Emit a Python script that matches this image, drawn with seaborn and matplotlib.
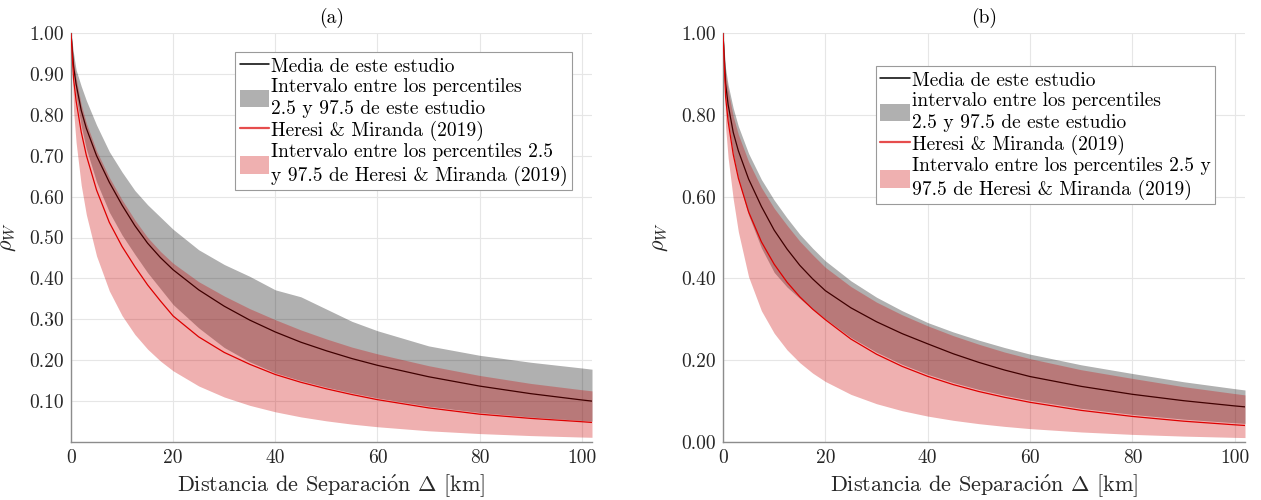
import matplotlib
matplotlib.use("Agg")
import matplotlib.pyplot as plt
import seaborn as sns
from matplotlib.lines import Line2D
from matplotlib.patches import Patch

# ---------------- data ----------------
distance_km = [0, 0.5, 1, 2, 3, 5, 7.5, 10, 12.5, 15, 17.5, 20, 25, 30, 35, 40,
               45, 50, 55, 60, 70, 80, 90, 100, 102]

# panel (a)
mean_a = [1.0, 0.918, 0.875, 0.811, 0.767, 0.700, 0.635, 0.579, 0.529, 0.486, 0.451,
          0.421, 0.372, 0.332, 0.298, 0.269, 0.244, 0.223, 0.204, 0.1875, 0.1596,
          0.1367, 0.1182, 0.1028, 0.100]
p025_a = [1.0, 0.898, 0.846, 0.773, 0.717, 0.636, 0.562, 0.506, 0.459, 0.414, 0.375,
          0.336, 0.279, 0.231, 0.196, 0.169, 0.150, 0.134, 0.120, 0.1075, 0.0874,
          0.072, 0.061, 0.0526, 0.051]
p975_a = [1.0, 0.95, 0.91, 0.87, 0.835, 0.775, 0.71, 0.66, 0.615, 0.58, 0.55, 0.52,
          0.47, 0.434, 0.405, 0.372, 0.355, 0.325, 0.295, 0.272, 0.235, 0.212, 0.195,
          0.181, 0.178]
hm_a = [1.0, 0.888, 0.834, 0.758, 0.701, 0.616, 0.537, 0.478, 0.429, 0.384, 0.345,
        0.308, 0.257, 0.219, 0.190, 0.165, 0.146, 0.130, 0.116, 0.1035, 0.0834, 0.068,
        0.0577, 0.0496, 0.0478]
hm025_a = [1.0, 0.811, 0.732, 0.628, 0.556, 0.455, 0.3695, 0.309, 0.263, 0.227, 0.198,
           0.174, 0.137, 0.110, 0.0896, 0.0738, 0.0614, 0.0517, 0.0437, 0.0373, 0.0274,
           0.0206, 0.0157, 0.0121, 0.0115]
hm975_a = [1.0, 0.933, 0.89, 0.825, 0.78, 0.712, 0.647, 0.592, 0.543, 0.500, 0.466,
           0.437, 0.392, 0.357, 0.326, 0.299, 0.274, 0.252, 0.232, 0.2155, 0.1866,
           0.1627, 0.1432, 0.1278, 0.125]

# panel (b)
mean_b = [1.0, 0.877, 0.825, 0.757, 0.712, 0.643, 0.576, 0.518, 0.472, 0.432, 0.399,
          0.370, 0.328, 0.294, 0.265, 0.240, 0.2157, 0.1946, 0.176, 0.160, 0.136,
          0.1166, 0.101, 0.0882, 0.0859]
p025_b = [1.0, 0.845, 0.784, 0.703, 0.642, 0.5546, 0.4745, 0.4147, 0.379, 0.351, 0.325,
          0.301, 0.2556, 0.2196, 0.1899, 0.1655, 0.1453, 0.1284, 0.1143, 0.102, 0.0823,
          0.0675, 0.0559, 0.047, 0.0454]
p975_b = [1.0, 0.914, 0.8735, 0.816, 0.772, 0.7055, 0.642, 0.5915, 0.548, 0.508, 0.474,
          0.443, 0.394, 0.354, 0.321, 0.292, 0.269, 0.249, 0.231, 0.2148, 0.1887,
          0.1675, 0.1473, 0.1304, 0.1272]
hm_b = [1.0, 0.845, 0.784, 0.703, 0.645, 0.5626, 0.4895, 0.4347, 0.391, 0.355, 0.325,
        0.299, 0.2516, 0.2146, 0.1849, 0.1605, 0.1403, 0.1234, 0.1093, 0.097, 0.0773,
        0.0625, 0.0509, 0.042, 0.0404]
hm025_b = [1.0, 0.771, 0.695, 0.594, 0.514, 0.404, 0.321, 0.266, 0.2254, 0.194, 0.1686,
           0.148, 0.1164, 0.0936, 0.0765, 0.0633, 0.053, 0.0448, 0.0382, 0.0327, 0.0245,
           0.0186, 0.0144, 0.0113, 0.0108]
hm975_b = [1.0, 0.902, 0.8585, 0.796, 0.752, 0.6855, 0.622, 0.5715, 0.530, 0.491, 0.458,
           0.427, 0.380, 0.342, 0.311, 0.284, 0.260, 0.239, 0.220, 0.2038, 0.1767,
           0.1555, 0.1353, 0.1184, 0.1152]

x_ticks = [0, 20, 40, 60, 80, 100]
y_ticks_a = [0.1, 0.2, 0.3, 0.4, 0.5, 0.6, 0.7, 0.8, 0.9, 1.0]
y_ticks_b = [0.0, 0.2, 0.4, 0.6, 0.8, 1.0]

labels_a = ["Media de este estudio",
            "Intervalo entre los percentiles\n2.5 y 97.5 de este estudio",
            "Heresi & Miranda (2019)",
            "Intervalo entre los percentiles 2.5\ny 97.5 de Heresi & Miranda (2019)"]
labels_b = ["Media de este estudio",
            "intervalo entre los percentiles\n2.5 y 97.5 de este estudio",
            "Heresi & Miranda (2019)",
            "Intervalo entre los percentiles 2.5 y\n97.5 de Heresi & Miranda (2019)"]

# ---------------- style ----------------
sns.set_theme(style="whitegrid")
plt.rcParams["font.family"] = ["cmr10", "DejaVu Serif"]
plt.rcParams["mathtext.fontset"] = "cm"
plt.rcParams["axes.formatter.use_mathtext"] = True
plt.rcParams["axes.unicode_minus"] = False

GRAY_A = 0.31
PINK_C = (0.8, 0.0, 0.0)
PINK_A = 0.31
RED = (0.9, 0.0, 0.0)
SPINE = "#8c8c8c"
TICKTXT = "#262626"

fig = plt.figure(figsize=(12.61, 5.0), dpi=100)
ax_a = fig.add_axes([71 / 1261, 1 - 442 / 500, 521 / 1261, 409 / 500])
ax_b = fig.add_axes([723 / 1261, 1 - 442 / 500, 522 / 1261, 409 / 500])


def draw(ax, mean, lo, hi, hm, hlo, hhi, yticks, labels, title, leg_anchor):
    sns.lineplot(x=distance_km, y=mean, ax=ax, color="black", lw=0.9,
                 zorder=2, legend=False, estimator=None, sort=False)
    ax.fill_between(distance_km, lo, hi, color="black", alpha=GRAY_A, lw=0, zorder=3)
    sns.lineplot(x=distance_km, y=hm, ax=ax, color=RED, lw=0.9,
                 zorder=4, legend=False, estimator=None, sort=False)
    ax.fill_between(distance_km, hlo, hhi, color=PINK_C, alpha=PINK_A, lw=0, zorder=5)

    ax.set_xlim(0, 102)
    ax.set_ylim(0, 1)
    ax.set_xticks(x_ticks)
    ax.set_xticklabels([str(t) for t in x_ticks])
    ax.set_yticks(yticks)
    ax.set_yticklabels([f"{t:.2f}" for t in yticks])
    ax.tick_params(axis="both", direction="in", length=4, width=0.8,
                   color=SPINE, labelsize=14, labelcolor=TICKTXT, pad=5)
    ax.grid(True, color="#e6e6e6", lw=0.8)
    ax.set_axisbelow(True)
    for s in ["top", "right"]:
        ax.spines[s].set_visible(False)
    for s in ["left", "bottom"]:
        ax.spines[s].set_visible(True)
        ax.spines[s].set_color(SPINE)
        ax.spines[s].set_linewidth(1.0)
    ax.set_facecolor("white")

    ax.set_xlabel(r"Distancia de Separaci$\mathrm{\acute{o}}$n $\Delta$ [km]",
                  fontsize=16, color="#262626", labelpad=4)
    ax.set_ylabel(r"$\rho_W$", fontsize=16, color="#262626", labelpad=8)
    ax.set_title(title, fontsize=14, color="black", pad=7)

    handles = [Line2D([0], [0], color="black", lw=1.1),
               Patch(facecolor="black", alpha=GRAY_A, edgecolor="none"),
               Line2D([0], [0], color=(0.9, 0.3, 0.3), lw=1.6),
               Patch(facecolor=PINK_C, alpha=PINK_A, edgecolor="none")]
    leg = ax.legend(handles, labels, loc="upper right", bbox_to_anchor=leg_anchor,
                    borderaxespad=0, fontsize=14, frameon=True, fancybox=False,
                    framealpha=1, edgecolor="#9a9a9a", handlelength=1.5,
                    handleheight=1.0, handletextpad=0.12, labelspacing=0.12,
                    borderpad=0.22)
    leg.get_frame().set_linewidth(0.8)
    leg.set_zorder(10)
    for t in leg.get_texts():
        t.set_linespacing(1.3)
        t.set_color("black")


draw(ax_a, mean_a, p025_a, p975_a, hm_a, hm025_a, hm975_a, y_ticks_a, labels_a,
     "(a)", (0.9616, 0.9535))
draw(ax_b, mean_b, p025_b, p975_b, hm_b, hm025_b, hm975_b, y_ticks_b, labels_b,
     "(b)", (0.9425, 0.919))

fig.savefig("out.png", dpi=100, facecolor="white")
